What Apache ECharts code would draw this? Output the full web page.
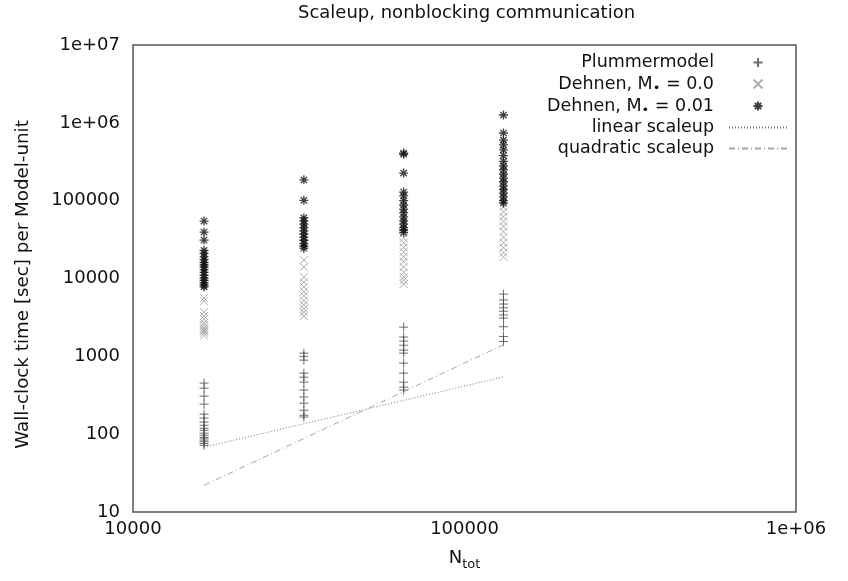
<!DOCTYPE html>
<html><head><meta charset="utf-8">
<script src="https://cdn.jsdelivr.net/npm/echarts@6/dist/echarts.min.js"></script>
<style>html,body{margin:0;padding:0;background:#fff}#c{width:848px;height:581px}</style>
</head><body><div id="c"></div>
<script>
// Problem sizes (x positions)
const nValues = [16384, 32768, 65536, 131072];

// Plummermodel, per N
const plummer16384 = [453, 390, 308, 243, 181, 161, 143, 130, 119, 112, 103, 97, 91, 89, 84, 80, 76, 72];
const plummer32768 = [1100, 1000, 893, 608, 540, 466, 368, 300, 250, 203, 175, 166];
const plummer65536 = [2370, 1770, 1570, 1390, 1200, 1100, 818, 608, 466, 402, 368];
const plummer131072 = [6300, 5300, 4700, 4200, 3800, 3400, 3100, 2400, 1800, 1550];

// Dehnen, M = 0.0, per N
const dehnen0_16384 = [5600, 5100, 3700, 3300, 3000, 2700, 2500, 2300, 2200, 2100, 2000, 1850];
const dehnen0_32768 = [17200, 14000, 10400, 9000, 7800, 6800, 6000, 5200, 4600, 4100, 3700, 3300];
const dehnen0_65536 = [38000, 33000, 29000, 25000, 22000, 19000, 16500, 14000, 12000, 10500, 9500, 8500];
const dehnen0_131072 = [83000, 72000, 62000, 54000, 47000, 40000, 34000, 29000, 25000, 21500, 19000];

// Dehnen, M = 0.01, per N
const dehnen1_16384 = [54700, 39500, 31200, 23000, 21000, 19000, 17500, 16000, 15000, 14000, 13000, 12000, 11000, 10200, 9500, 8800, 8200, 7800];
const dehnen1_32768 = [185000, 101000, 60000, 55000, 50000, 45000, 41000, 37000, 34000, 31000, 28000, 26000, 24500];
const dehnen1_65536 = [409000, 395000, 226000, 129000, 115000, 100000, 88000, 78000, 70000, 62000, 55000, 50000, 45000, 42000, 39000];
const dehnen1_131072 = [1260000, 740000, 600000, 520000, 450000, 380000, 320000, 280000, 250000, 220000, 195000, 175000, 155000, 140000, 125000, 112000, 100000, 93000];

// Reference scaleup lines
const linearScaleup = [68, 136, 272, 544];
const quadraticScaleup = [22, 88, 352, 1408];

// Tick labels
const xTickValues = [10000, 100000, 1000000];
const xTickLabels = ['10000', '100000', '1e+06'];
const yTickValues = [10, 100, 1000, 10000, 100000, 1000000, 10000000];
const yTickLabels = ['10', '100', '1000', '10000', '100000', '1e+06', '1e+07'];

const seriesNames = ['Plummermodel', 'Dehnen, M\u2022 = 0.0', 'Dehnen, M\u2022 = 0.01', 'linear scaleup', 'quadratic scaleup'];

function pts(groups) {
  const out = [];
  groups.forEach((vals, i) => vals.forEach(v => out.push([nValues[i], v])));
  return out;
}
function lbl(values, labels) {
  return function (v) {
    let best = 0, d = Infinity;
    values.forEach((t, i) => { const dd = Math.abs(Math.log10(t) - Math.log10(v)); if (dd < d) { d = dd; best = i; } });
    return d < 0.01 ? labels[best] : '';
  };
}

const FONT = 'DejaVu Sans';
const plusPath = 'path://M0,5L10,5M5,0L5,10';
const crossPath = 'path://M0,0L10,10M10,0L0,10';
const starPath = 'path://M0,5L10,5M5,0L5,10M1.5,1.5L8.5,8.5M8.5,1.5L1.5,8.5';

const chart = echarts.init(document.getElementById('c'), null, { renderer: 'canvas' });
chart.setOption({
  animation: false,
  backgroundColor: '#fff',
  textStyle: { fontFamily: FONT },
  title: {
    text: 'Scaleup, nonblocking communication',
    left: 298, top: 4, padding: 0,
    textStyle: { fontFamily: FONT, fontSize: 18, fontWeight: 'normal', color: '#111' }
  },
  grid: { left: 133, right: 52, top: 45, bottom: 69, show: true, borderColor: '#555', borderWidth: 1.5, containLabel: false },
  legend: {
    orient: 'vertical', align: 'right', right: 60, top: 52, padding: 0,
    itemWidth: 58, itemHeight: 9, itemGap: 0,
    data: seriesNames,
    formatter: function (name) { return name.replace('\u2022', '{s|\u2022}'); },
    textStyle: {
      fontFamily: FONT, fontSize: 17.5, color: '#111', lineHeight: 21, padding: [0, 10, 0, 0],
      rich: { s: { fontFamily: FONT, fontSize: 13, lineHeight: 21, padding: [9, 0, 0, 0], color: '#111' } }
    }
  },
  xAxis: {
    type: 'log', logBase: 10, min: 10000, max: 1000000,
    name: 'N{sub|tot}', nameLocation: 'middle', nameGap: 34,
    nameTextStyle: { fontFamily: FONT, fontSize: 18, color: '#111', rich: { sub: { fontFamily: FONT, fontSize: 13, color: '#111', padding: [12, 0, 0, 0] } } },
    axisLine: { show: false }, axisTick: { show: false }, splitLine: { show: false },
    axisLabel: { fontFamily: FONT, fontSize: 18, color: '#111', margin: 8, formatter: lbl(xTickValues, xTickLabels) }
  },
  yAxis: {
    type: 'log', logBase: 10, min: 10, max: 10000000,
    name: 'Wall-clock time [sec] per Model-unit', nameLocation: 'middle', nameGap: 101,
    nameTextStyle: { fontFamily: FONT, fontSize: 18.3, color: '#111', padding: [0, 12, 0, 0] },
    axisLine: { show: false }, axisTick: { show: false }, splitLine: { show: false },
    axisLabel: { fontFamily: FONT, fontSize: 18, color: '#111', margin: 13, formatter: lbl(yTickValues, yTickLabels) }
  },
  series: [
    {
      name: seriesNames[0], type: 'scatter', symbol: plusPath, symbolSize: 9, symbolKeepAspect: true,
      itemStyle: { color: 'rgba(0,0,0,0)', borderColor: '#4a4a4a', borderWidth: 1 },
      data: pts([plummer16384, plummer32768, plummer65536, plummer131072])
    },
    {
      name: seriesNames[1], type: 'scatter', symbol: crossPath, symbolSize: 8, symbolKeepAspect: true,
      itemStyle: { color: 'rgba(0,0,0,0)', borderColor: '#9a9a9a', borderWidth: 1 },
      data: pts([dehnen0_16384, dehnen0_32768, dehnen0_65536, dehnen0_131072])
    },
    {
      name: seriesNames[2], type: 'scatter', symbol: starPath, symbolSize: 9, symbolKeepAspect: true,
      itemStyle: { color: 'rgba(0,0,0,0)', borderColor: '#111', borderWidth: 1.3 },
      data: pts([dehnen1_16384, dehnen1_32768, dehnen1_65536, dehnen1_131072])
    },
    {
      name: seriesNames[3], type: 'line', symbol: 'none',
      itemStyle: { color: 'rgba(0,0,0,0)', opacity: 0 },
      lineStyle: { color: '#777', width: 1, type: [1, 2], opacity: 1 },
      data: nValues.map((n, i) => [n, linearScaleup[i]])
    },
    {
      name: seriesNames[4], type: 'line', symbol: 'none',
      itemStyle: { color: 'rgba(0,0,0,0)', opacity: 0 },
      lineStyle: { color: '#a5a5a5', width: 1, type: [6, 3, 1, 3], opacity: 1 },
      data: nValues.map((n, i) => [n, quadraticScaleup[i]])
    }
  ]
});
</script></body></html>
